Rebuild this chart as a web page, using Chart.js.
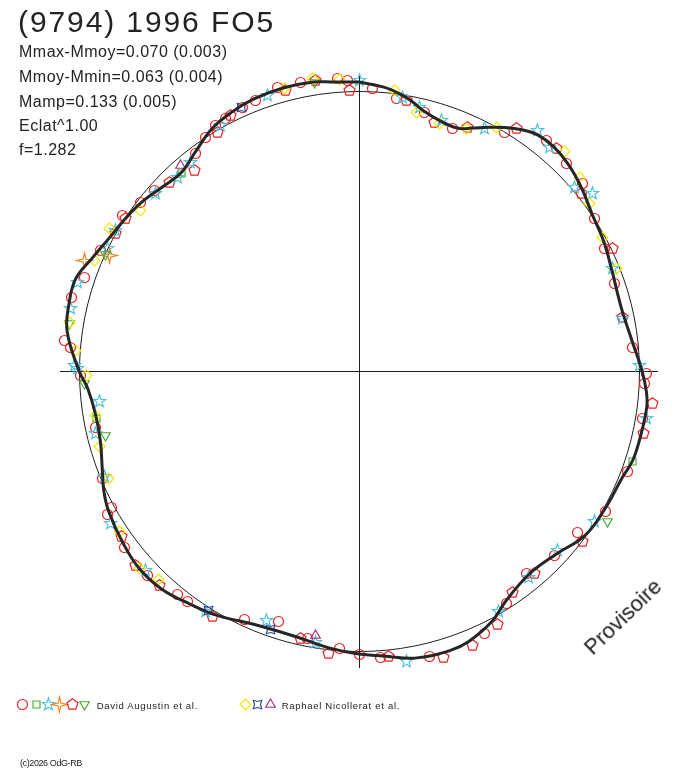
<!DOCTYPE html>
<html>
<head>
<meta charset="utf-8">
<script src="https://cdn.jsdelivr.net/npm/chart.js@4/dist/chart.umd.min.js"></script>
<style>
  html, body { margin: 0; padding: 0; background: #fff; }
  #wrap { position: relative; width: 688px; height: 768px; overflow: hidden; }
  #chart { position: absolute; left: 0; top: 0; }
  .t { position: absolute; white-space: nowrap; line-height: 1; color: #222;
       font-family: "Liberation Sans", Arial, sans-serif; pointer-events: none; }
  .sym { position: absolute; image-rendering: pixelated; }
</style>
</head>
<body>
<div id="wrap">
  <canvas id="chart" width="688" height="768"></canvas>
  <div class="t" style="left:18px; top:6.6px; font-size:30px; letter-spacing:1.9px;">(9794) 1996 FO5</div>
  <div class="t" style="left:19px; top:43.8px; font-size:16px; letter-spacing:0.5px;">Mmax-Mmoy=0.070 (0.003)</div>
  <div class="t" style="left:19px; top:68.5px; font-size:16px; letter-spacing:0.5px;">Mmoy-Mmin=0.063 (0.004)</div>
  <div class="t" style="left:19px; top:93.5px; font-size:16px; letter-spacing:0.5px;">Mamp=0.133 (0.005)</div>
  <div class="t" style="left:19px; top:118.2px; font-size:16px; letter-spacing:0.5px;">Eclat^1.00</div>
  <div class="t" style="left:19px; top:142.4px; font-size:16px; letter-spacing:0.5px;">f=1.282</div>
  <div class="t" style="left:623px; top:617px; font-size:22px; transform: translate(-50%,-50%) rotate(-44deg);">Provisoire</div>
  <div class="t" style="left:96.7px; top:701.2px; font-size:9.5px; letter-spacing:0.7px;">David Augustin et al.</div>
  <div class="t" style="left:281.7px; top:701.2px; font-size:9.5px; letter-spacing:0.7px;">Raphael Nicollerat et al.</div>
  <div class="t" style="left:20px; top:759px; font-size:9px; letter-spacing:-0.4px;">(c)2026 OdG-RB</div>
</div>
<script>
// ---- Light curve (polar): phase angle in degrees (clockwise from top) and radius ----
const curvePhaseDeg = [0,5,8.5,11,14,18,22,25,28,31,34,37,41,45.5,50.7,56,62,68.6,73,77.3,
  83.5,90,94,97,102.7,108,112,119,126,133,140,147.5,152,158,162,169,175,180,186,193.5,
  202,210.5,216,222,228,234,240.7,244.8,249.3,254.8,260.6,266.4,270,277.7,282.8,288,293,298,303,
  308,314,318.4,323.3,328.8,334,339,345,351,355,360];
const curveRadius = [289,285,280,275,268,263,262,268,276,284,291,296,297,294,288,281,277,272,270,270,
  274.5,283,288,290,289,288,284,282,279.5,269,265,273,283.5,292,294,292.5,286,283,278.6,273,
  274,283,288,294,295.5,292,287,282,274.5,268,267,272,280,294.5,297.6,298,289.6,283,279,
  275,268.4,266.4,273.5,283.6,288.6,291.7,293,292.6,290,289];
const referenceRadius = 280;
const axisExtentX = [-299, 299];
const axisExtentY = [-297, 297];

// ---- Observations (x, y in the same units) ----
const obsCircleX = [13,37,65,93,145,187,207,223,235,245,255,273,
  287,285,283,268,246,218,195,167,147,125,70,21,0,
  -279,-264,-257,-248,-252,-235,-212,-182,-172,-115,-81,-52,-20,
  -295,-289,-288,-275,-259,-237,-219,-205,-164,-154,-144,-134,-117,-104,-82,-59,-22,-12];
const obsCircleY = [283,273,259,243,239,231,208,188,153,123,88,24,
  -2,-12,-47,-100,-140,-161,-184,-202,-232,-262,-285,-286,-283,
  -4,-56,-107,-136,-143,-176,-204,-223,-230,-248,-250,-267,-277,
  31,24,74,94,121,156,169,181,218,234,246,253,264,271,284,289,293,291];
const obsPentagonX = [47,75,108,157,197,222,253,263,
  293,284,223,175,153,138,113,84,29,
  -238,-224,-200,-147,-59,-31,
  -244,-234,-190,-165,-142,-129,-74,-44,-10];
const obsPentagonY = [271,249,244,243,223,178,123,54,
  -32,-62,-170,-202,-221,-253,-274,-286,-285,
  -165,-194,-214,-245,-267,-282,
  138,153,189,201,239,256,281,291,281];
const obsStarX = [0,43,60,82,125,178,190,215,233,253,263,280,
  287,235,198,169,139,47,
  -260,-264,-255,-249,-214,-154,-93,-44,-282,
  -282,-289,-285,-252,-244,-204,-182,-169,-139,-92];
const obsStarY = [291,274,264,251,243,241,224,184,178,103,53,6,
  -47,-150,-179,-206,-240,-290,
  -30,-62,-105,-152,-199,-240,-249,-271,3,
  89,63,6,123,141,178,194,209,246,276];
const obsDiamondX = [35,57,80,107,137,205,220,230,243,257,
  -273,-264,-260,-251,-240,-220,-201,
  -290,-284,-265,-250,-219,-75,-47,-20];
const obsDiamondY = [281,259,248,243,244,220,194,168,134,103,
  -4,-44,-75,-107,-160,-197,-208,
  49,21,111,143,161,283,293,292];
const obsSquareX = [273,-263,-178];
const obsSquareY = [-90,-47,198];
const obsTriDownX = [248,-275,-254,-290,-254,-45];
const obsTriDownY = [-150,-12,-64,48,117,289];
const obsStar4X = [-275,-250];
const obsStar4Y = [111,116];
const obsQuadX = [-151,-89,-118];
const obsQuadY = [-239,-258,264];
const obsTriUpX = [-44,-179];
const obsTriUpY = [-264,206];

// ---- Symbols ----
function makeSymbol(kind, color) {
  const s = 19, m = 9.5;
  const c = document.createElement('canvas');
  c.width = s; c.height = s;
  const ctx = c.getContext('2d');
  ctx.strokeStyle = color; ctx.lineWidth = 1.15;
  ctx.beginPath();
  function star(n, ro, ri, rot) {
    for (let i = 0; i < 2 * n; i++) {
      const r = (i % 2 === 0) ? ro : ri;
      const a = rot + i * Math.PI / n;
      const px = m + r * Math.cos(a), py = m + r * Math.sin(a);
      if (i === 0) ctx.moveTo(px, py); else ctx.lineTo(px, py);
    }
    ctx.closePath();
  }
  function poly(n, r, rot) {
    for (let i = 0; i < n; i++) {
      const a = rot + i * 2 * Math.PI / n;
      const px = m + r * Math.cos(a), py = m + r * Math.sin(a);
      if (i === 0) ctx.moveTo(px, py); else ctx.lineTo(px, py);
    }
    ctx.closePath();
  }
  const up = -Math.PI / 2;
  switch (kind) {
    case 'circle': ctx.arc(m, m, 5, 0, 2 * Math.PI); break;
    case 'square': ctx.rect(m - 3.5, m - 3.5, 7, 7); break;
    case 'star5': star(5, 6.5, 2.7, up); break;
    case 'star4': star(4, 7.5, 2, up); break;
    case 'pentagon': poly(5, 5.8, up); break;
    case 'triDown': poly(3, 5.5, Math.PI / 2); break;
    case 'triUp': poly(3, 5.5, up); break;
    case 'diamond': poly(4, 5.5, up); break;
    case 'quad': star(4, 6, 3, Math.PI / 4); break;
  }
  ctx.stroke();
  return c;
}

const colors = {
  red: '#f01c1c', green: '#43ad2e', cyan: '#4cc2e0', orange: '#f7801a',
  yellow: '#f0ea00', blue: '#2f45a3', purple: '#a52c7e'
};
const symColor = {
  circle: colors.red, square: colors.green, star5: colors.cyan, star4: colors.orange,
  pentagon: colors.red, triDown: colors.green, diamond: colors.yellow, quad: colors.blue, triUp: colors.purple
};
const sym = {};
Object.keys(symColor).forEach(k => { sym[k] = makeSymbol(k, symColor[k]); });

// legend symbols (HTML)
const wrap = document.getElementById('wrap');
[['circle',22],['square',36],['star5',48],['star4',59],['pentagon',72],['triDown',84],
 ['diamond',245],['quad',257],['triUp',270]].forEach(([k, cx]) => {
  const c = makeSymbol(k, symColor[k]);
  c.className = 'sym';
  c.style.left = Math.round(cx - c.width / 2) + 'px';
  c.style.top = Math.round(704.5 - c.height / 2) + 'px';
  wrap.appendChild(c);
});

function pts(xs, ys) { return xs.map((x, i) => ({ x: x, y: ys[i] })); }
const curvePts = curvePhaseDeg.map((a, i) => {
  const t = a * Math.PI / 180;
  return { x: curveRadius[i] * Math.sin(t), y: curveRadius[i] * Math.cos(t) };
});

function obsSet(label, xs, ys, style) {
  return { label, data: pts(xs, ys), pointStyle: style, pointRadius: 5, showLine: false };
}

const refPlugin = {
  id: 'ref',
  beforeDatasetsDraw(chart) {
    const { ctx, scales: { x, y } } = chart;
    const cx = Math.round(x.getPixelForValue(0)) + 0.5;
    const cy = Math.round(y.getPixelForValue(0)) + 0.5;
    ctx.save();
    ctx.strokeStyle = '#1e1e1e';
    ctx.lineWidth = 1;
    ctx.beginPath();
    ctx.moveTo(x.getPixelForValue(axisExtentX[0]), cy);
    ctx.lineTo(x.getPixelForValue(axisExtentX[1]), cy);
    ctx.moveTo(cx, y.getPixelForValue(axisExtentY[1]));
    ctx.lineTo(cx, y.getPixelForValue(axisExtentY[0]));
    ctx.stroke();
    const rp = x.getPixelForValue(referenceRadius) - x.getPixelForValue(0);
    ctx.beginPath();
    ctx.arc(cx, cy, rp, 0, 2 * Math.PI);
    ctx.stroke();
    ctx.restore();
    ctx.imageSmoothingEnabled = false;
  }
};

new Chart(document.getElementById('chart'), {
  type: 'scatter',
  data: {
    datasets: [
      { label: 'curve', data: curvePts, showLine: true, borderColor: '#262626', borderWidth: 3,
        pointRadius: 0, tension: 0.4, fill: false },
      obsSet('triUp', obsTriUpX, obsTriUpY, sym.triUp),
      obsSet('quad', obsQuadX, obsQuadY, sym.quad),
      obsSet('diamond', obsDiamondX, obsDiamondY, sym.diamond),
      obsSet('triDown', obsTriDownX, obsTriDownY, sym.triDown),
      obsSet('square', obsSquareX, obsSquareY, sym.square),
      obsSet('star4', obsStar4X, obsStar4Y, sym.star4),
      obsSet('star5', obsStarX, obsStarY, sym.star5),
      obsSet('pentagon', obsPentagonX, obsPentagonY, sym.pentagon),
      obsSet('circle', obsCircleX, obsCircleY, sym.circle)
    ]
  },
  options: {
    responsive: false,
    animation: false,
    layout: { padding: { left: 59, right: 29, top: 71, bottom: 97 } },
    scales: {
      x: { type: 'linear', min: -300, max: 300, display: false },
      y: { type: 'linear', min: -300, max: 300, display: false }
    },
    plugins: { legend: { display: false }, tooltip: { enabled: false } }
  },
  plugins: [refPlugin]
});
</script>
</body>
</html>
